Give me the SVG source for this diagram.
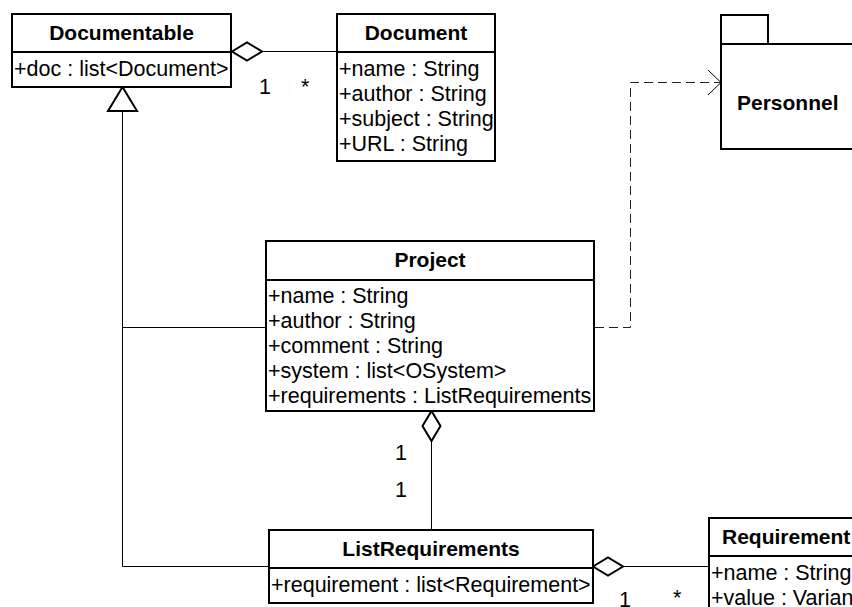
<svg xmlns="http://www.w3.org/2000/svg" width="852" height="607" viewBox="0 0 852 607">
<style>
.box{fill:#fff;stroke:#000;stroke-width:2}
.div{stroke:#000;stroke-width:2}
.t{font-family:"Liberation Sans",Arial,sans-serif;font-size:21.5px;fill:#000}
.b{font-weight:bold;font-size:21px}
.m{text-anchor:middle}
.ln{fill:none;stroke:#000;stroke-width:1}
.dash{stroke-dasharray:9 5;stroke:#222}
.dia{fill:#fff;stroke:#000;stroke-width:2;stroke-linejoin:miter}
</style>
<rect width="852" height="607" fill="#fff"/>
<g id="connectors">
  <!-- Documentable <>- Document -->
  <line class="ln" x1="262" y1="51.5" x2="337" y2="51.5"/>
  <polygon class="dia" points="232,51.5 247,42.5 262,51.5 247,60.5"/>
  <text class="t" x="259" y="94">1</text>
  <text class="t" x="301" y="94">*</text>
  <!-- Generalization to Documentable -->
  <polyline class="ln" points="122.5,111 122.5,566.5 269,566.5"/>
  <line class="ln" x1="122.5" y1="327.5" x2="266" y2="327.5"/>
  <polygon class="dia" points="122.5,87 108,111 137,111"/>
  <!-- Dependency Project -> Personnel -->
  <polyline class="ln dash" points="595,327.5 630.5,327.5 630.5,82.5 720,82.5"/>
  <polyline class="ln" points="708,70 721,82.5 708,95"/>
  <!-- Project <>- ListRequirements -->
  <line class="ln" x1="431.5" y1="441" x2="431.5" y2="530"/>
  <polygon class="dia" points="431.5,411 440.5,426 431.5,441 422.5,426"/>
  <text class="t" x="395" y="460">1</text>
  <text class="t" x="395" y="497">1</text>
  <!-- ListRequirements <>- Requirement -->
  <line class="ln" x1="623" y1="566.5" x2="709" y2="566.5"/>
  <polygon class="dia" points="593,566.5 608,557.5 623,566.5 608,575.5"/>
  <text class="t" x="619" y="607">1</text>
  <text class="t" x="673" y="605">*</text>
</g>
<g id="Documentable">
  <rect class="box" x="12" y="14" width="219" height="73"/>
  <line class="div" x1="12" y1="52" x2="231" y2="52"/>
  <text class="t b m" x="121.5" y="40">Documentable</text>
  <text class="t" x="14" y="76">+doc : list&lt;Document&gt;</text>
</g>
<g id="Document">
  <rect class="box" x="337" y="14" width="158" height="147"/>
  <line class="div" x1="337" y1="52" x2="495" y2="52"/>
  <text class="t b m" x="416" y="40">Document</text>
  <text class="t" x="339" y="76">+name : String</text>
  <text class="t" x="339" y="101">+author : String</text>
  <text class="t" x="339" y="126">+subject : String</text>
  <text class="t" x="339" y="151">+URL : String</text>
</g>
<g id="Personnel">
  <rect class="box" x="721" y="15" width="47" height="29"/>
  <rect class="box" x="721" y="44" width="140" height="105"/>
  <text class="t b" x="737" y="110">Personnel</text>
</g>
<g id="Project">
  <rect class="box" x="266" y="241" width="328" height="170"/>
  <line class="div" x1="266" y1="280" x2="594" y2="280"/>
  <text class="t b m" x="430" y="267">Project</text>
  <text class="t" x="268" y="303">+name : String</text>
  <text class="t" x="268" y="328">+author : String</text>
  <text class="t" x="268" y="353">+comment : String</text>
  <text class="t" x="268" y="378">+system : list&lt;OSystem&gt;</text>
  <text class="t" x="268" y="403">+requirements : ListRequirements</text>
</g>
<g id="ListRequirements">
  <rect class="box" x="269" y="530" width="324" height="73"/>
  <line class="div" x1="269" y1="568" x2="593" y2="568"/>
  <text class="t b m" x="431" y="556">ListRequirements</text>
  <text class="t" x="271" y="592">+requirement : list&lt;Requirement&gt;</text>
</g>
<g id="Requirement">
  <rect class="box" x="709" y="518" width="150" height="100"/>
  <line class="div" x1="709" y1="556" x2="859" y2="556"/>
  <text class="t b" x="722" y="544">Requirement</text>
  <text class="t" x="711" y="580">+name : String</text>
  <text class="t" x="711" y="605">+value : Variant</text>
</g>
</svg>
